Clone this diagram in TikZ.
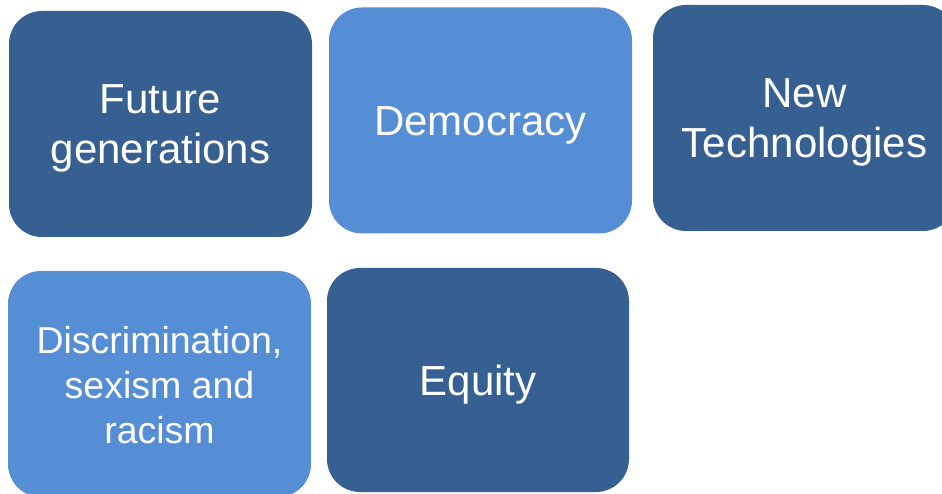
\documentclass[tikz,border=0pt]{standalone}
\usepackage{fontspec}
\usepackage{xcolor}
\usepackage{tikz}
\usetikzlibrary{positioning}
\setmainfont{Liberation Sans}

\definecolor{tileDark}{RGB}{54,96,146}
\definecolor{tileLight}{RGB}{85,142,213}

% lines of a tile, set a little lower than the centre
\newcommand{\tilelines}[1]{\raisebox{-5pt}[\height][\depth]{\begin{tabular}{@{}c@{}}#1\end{tabular}}}

\tikzset{
	tile/.style={rounded corners=33pt,minimum width=303pt,minimum height=226pt,inner sep=0pt,
		text=white,font=\fontsize{42}{50}\selectfont},
	darktile/.style={tile,fill=tileDark},
	lighttile/.style={tile,fill=tileLight}
}

\begin{document}
\begin{tikzpicture}[x=1pt,y=-1pt]
		\useasboundingbox (0,0) rectangle (942,494);
		\clip (0,0) rectangle (942,494);
		\node[darktile] (future) at (160.5,124) {\tilelines{Future\\generations}};
		\node[lighttile] (democracy) at (480.5,120.5) {\tilelines{Democracy}};
		\node[darktile] (newtech) at (804.5,118) {\tilelines{New\\Technologies}};
		\node[lighttile,font=\fontsize{37.5}{45}\selectfont] (discrim) at (159.5,384) {\tilelines{Discrimination,\\sexism and\\racism}};
		\node[darktile,minimum width=302pt,minimum height=224pt] (equity) at (478,380) {\tilelines{Equity}};
		\end{tikzpicture}
\end{document}
